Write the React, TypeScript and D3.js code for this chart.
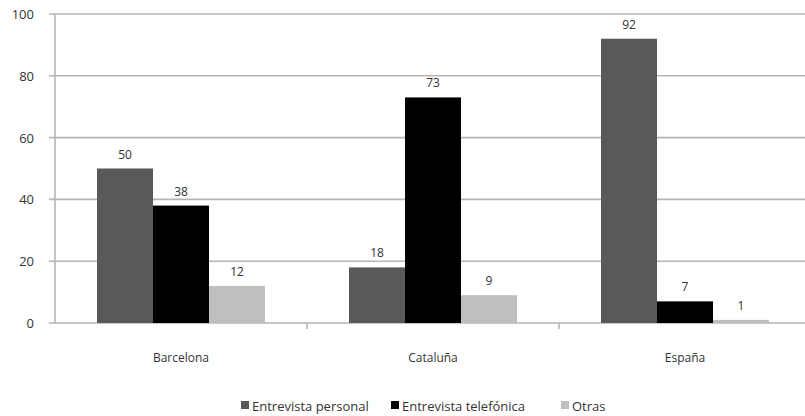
import { useEffect, useRef } from 'react';
import * as d3 from 'd3';

const categories = ['Barcelona', 'Cataluña', 'España'];
const seriesNames = ['Entrevista personal', 'Entrevista telefónica', 'Otras'];
const personal = [50, 18, 92];
const telefonica = [38, 73, 7];
const otras = [12, 9, 1];
const yTicks = [0, 20, 40, 60, 80, 100];

const colors = ['#595959', '#000000', '#bfbfbf'];

const render = (el: SVGSVGElement) => {
  const width = 805;
  const height = 416;
  const margin = { top: 14, right: -6, bottom: 93, left: 55 };
  const svg = d3.select(el).attr('width', width).attr('height', height);
  svg.selectAll('*').remove();

  const font = "'Open Sans', 'DejaVu Sans', sans-serif";
  const series = [personal, telefonica, otras];

  const x = d3
    .scaleBand()
    .domain(categories)
    .range([margin.left, width - margin.right])
    .paddingInner(0)
    .paddingOuter(0);
  const inner = d3
    .scaleBand()
    .domain(seriesNames)
    .range([0, x.bandwidth()])
    .paddingOuter(0.75)
    .paddingInner(0);
  const y = d3.scaleLinear().domain([0, 100]).range([height - margin.bottom, margin.top]);

  // gridlines
  svg
    .append('g')
    .selectAll('line')
    .data(yTicks)
    .enter()
    .append('line')
    .attr('x1', margin.left - 6)
    .attr('x2', width)
    .attr('y1', (d) => y(d))
    .attr('y2', (d) => y(d))
    .attr('stroke', '#b5b5b5')
    .attr('stroke-width', 1.6);

  // y axis line
  svg
    .append('line')
    .attr('x1', margin.left)
    .attr('x2', margin.left)
    .attr('y1', y(100))
    .attr('y2', y(0))
    .attr('stroke', '#b5b5b5')
    .attr('stroke-width', 1.6);

  // x ticks between categories
  svg
    .append('g')
    .selectAll('line')
    .data(categories.slice(1))
    .enter()
    .append('line')
    .attr('x1', (d) => x(d)!)
    .attr('x2', (d) => x(d)!)
    .attr('y1', y(0))
    .attr('y2', y(0) + 6)
    .attr('stroke', '#b5b5b5')
    .attr('stroke-width', 1.6);

  // y labels
  svg
    .append('g')
    .selectAll('text')
    .data(yTicks)
    .enter()
    .append('text')
    .attr('x', margin.left - 21)
    .attr('y', (d) => y(d) + 5)
    .attr('text-anchor', 'end')
    .attr('font-family', font)
    .attr('font-size', 13)
    .attr('fill', '#333')
    .text((d) => d);

  // bars
  const groups = svg
    .append('g')
    .selectAll('g')
    .data(categories)
    .enter()
    .append('g')
    .attr('transform', (d) => `translate(${x(d)},0)`);

  seriesNames.forEach((name, si) => {
    groups
      .append('rect')
      .attr('x', inner(name)!)
      .attr('y', (_, i) => y(series[si][i]))
      .attr('width', inner.bandwidth())
      .attr('height', (_, i) => y(0) - y(series[si][i]))
      .attr('fill', colors[si]);
    groups
      .append('text')
      .attr('x', inner(name)! + inner.bandwidth() / 2)
      .attr('y', (_, i) => y(series[si][i]) - 10)
      .attr('text-anchor', 'middle')
      .attr('font-family', font)
      .attr('font-size', 12)
      .attr('fill', '#333')
      .text((_, i) => series[si][i]);
  });

  // category labels
  svg
    .append('g')
    .selectAll('text')
    .data(categories)
    .enter()
    .append('text')
    .attr('x', (d) => x(d)! + x.bandwidth() / 2)
    .attr('y', y(0) + 39)
    .attr('text-anchor', 'middle')
    .attr('font-family', font)
    .attr('font-size', 12)
    .attr('fill', '#333')
    .text((d) => d);

  // legend
  const legendX = [241, 391, 561];
  const legend = svg
    .append('g')
    .selectAll('g')
    .data(seriesNames)
    .enter()
    .append('g')
    .attr('transform', (_, i) => `translate(${legendX[i]},401)`);
  legend
    .append('rect')
    .attr('x', 0)
    .attr('y', 0)
    .attr('width', 8)
    .attr('height', 8)
    .attr('fill', (_, i) => colors[i]);
  legend
    .append('text')
    .attr('x', 11)
    .attr('y', 10)
    .attr('font-family', font)
    .attr('font-size', 13)
    .attr('fill', '#333')
    .text((d) => d);
};

export default function App() {
  const ref = useRef<SVGSVGElement>(null);
  useEffect(() => {
    if (ref.current) render(ref.current);
  }, []);
  return (
    <div style={{ position: 'absolute', left: 0, top: 0 }}>
      <svg ref={ref} style={{ display: 'block' }}></svg>
    </div>
  );
}
